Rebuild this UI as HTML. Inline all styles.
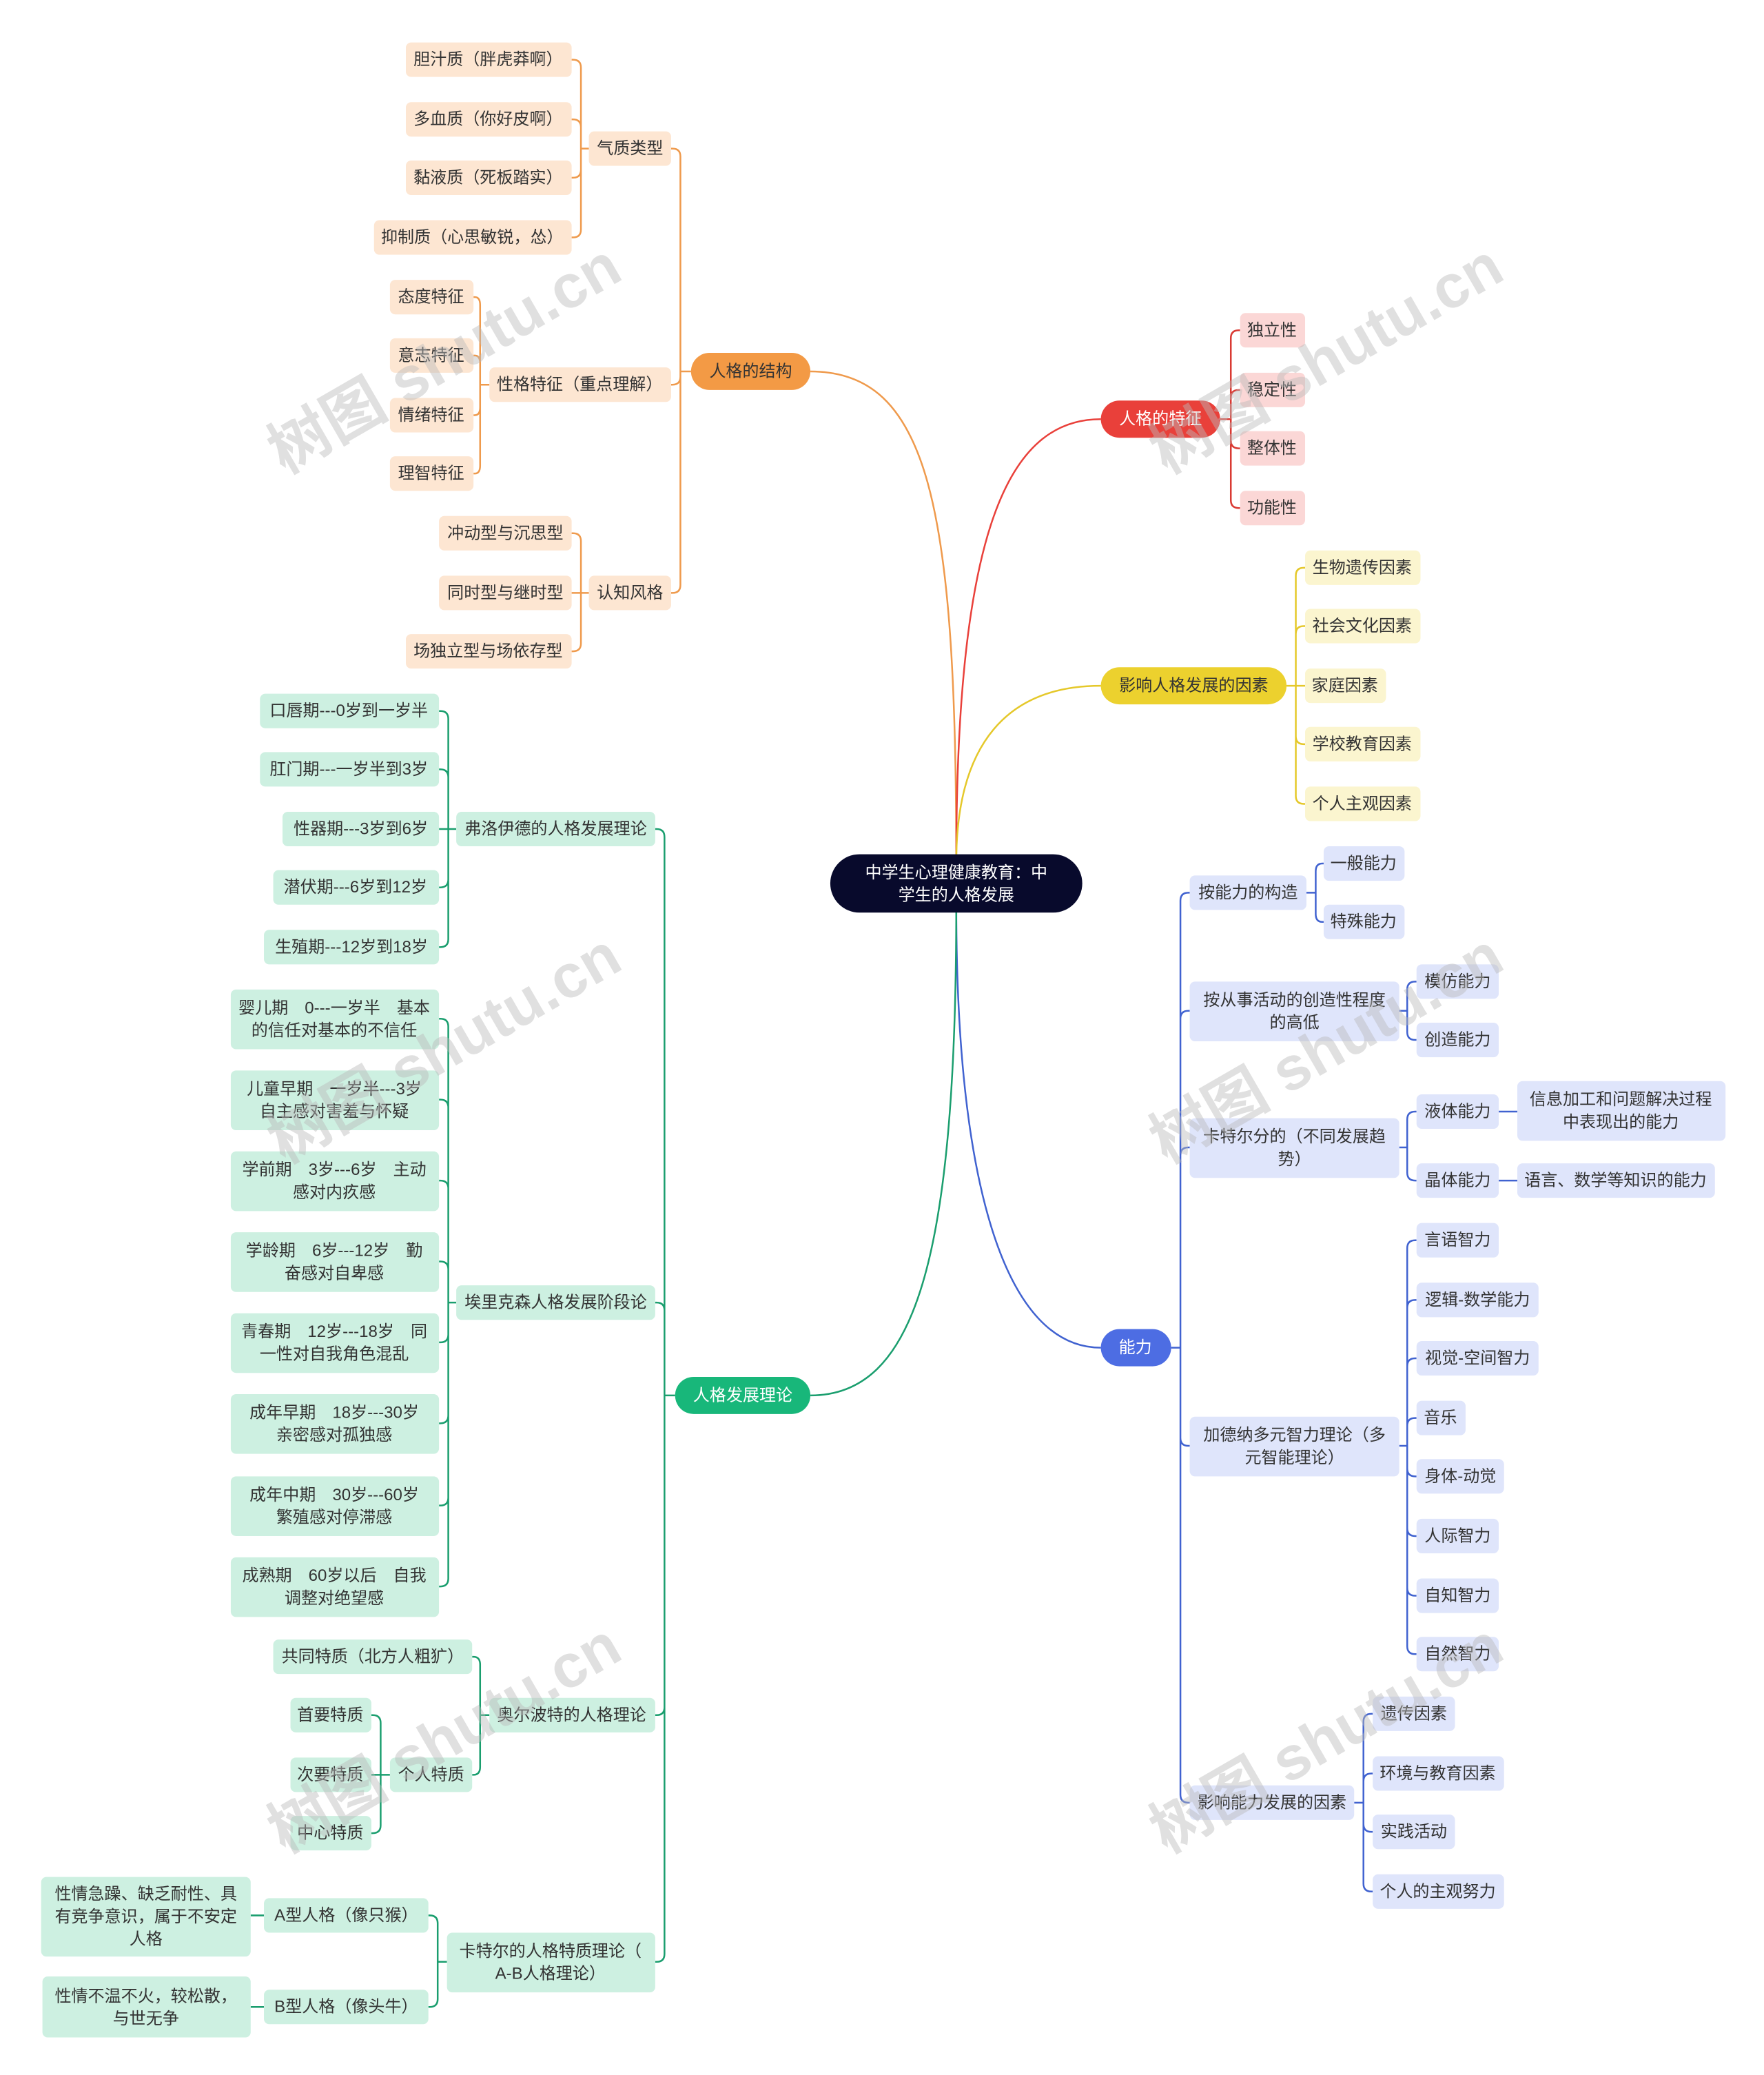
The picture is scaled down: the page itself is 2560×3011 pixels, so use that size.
<!DOCTYPE html>
<html><head><meta charset="utf-8">
<style>
html,body{margin:0;padding:0;background:#fff;}
svg{display:block;}
text{font-family:"Liberation Sans","Noto Sans CJK SC",sans-serif;font-size:12.5px;fill:#333;text-anchor:middle;dominant-baseline:central;}
.w{fill:#fff;}
.wm{font-size:46px;fill:#bbb;opacity:0.45;font-weight:bold;}
.o path,.o line{stroke:#ef9a4c;}
.r path{stroke:#d93a33;}
.y path{stroke:#e5c82a;}
.b path{stroke:#4062d0;}
.g path{stroke:#1a9e6e;}
path{fill:none;stroke-width:1.3;}
</style></head><body>
<svg width="2560" height="3011" viewBox="0 0 1330 1564.3" xmlns="http://www.w3.org/2000/svg">
<rect width="1330" height="1565" fill="#fff"/>

<!-- main connectors -->
<path d="M721 650 C721 380 700 280 611 280" stroke="#ef9a4c"/>
<path d="M721 650 C721 400 760 316 830 316" stroke="#e9403a"/>
<path d="M721 650 C721 560 760 517 830 517" stroke="#e5c82a"/>
<path d="M721 682 C721 900 760 1016 830 1016" stroke="#4062d0"/>
<path d="M721 682 C721 950 690 1052 611 1052" stroke="#1a9e6e"/>

<!-- ORANGE -->
<g class="o">
<path d="M521 280 H513 M513 280 V118 Q513 112 507 112 H506 M513 280 V284 Q513 290 507 290 H506 M513 280 V441 Q513 447 507 447 H506"/>
<path d="M444 112 H438 M438 112 V51 Q438 45 432 45 H431 M438 112 V96 Q438 90 432 90 H431 M438 112 V128 Q438 134 432 134 H431 M438 112 V173 Q438 179 432 179 H431"/>
<path d="M369 290 H362 M362 290 V230 Q362 224 358 224 H357 M362 290 V274 Q362 268 358 268 H357 M362 290 V307 Q362 313 358 313 H357 M362 290 V351 Q362 357 358 357 H357"/>
<path d="M444 447 H438 M438 447 V408 Q438 402 432 402 H431 M438 447 H431 M438 447 V485 Q438 491 432 491 H431"/>
</g>
<rect x="521" y="266" width="90" height="28" rx="14" fill="#f39a45"/><text x="566" y="280">人格的结构</text>
<g fill="#fde6d2">
<rect x="444" y="99" width="62" height="26" rx="4"/><rect x="369" y="277" width="137" height="26" rx="4"/><rect x="444" y="434" width="62" height="26" rx="4"/>
<rect x="306" y="32" width="125" height="26" rx="4"/><rect x="306" y="77" width="125" height="26" rx="4"/><rect x="306" y="121" width="125" height="26" rx="4"/><rect x="282" y="166" width="149" height="26" rx="4"/>
<rect x="294" y="211" width="63" height="26" rx="4"/><rect x="294" y="255" width="63" height="26" rx="4"/><rect x="294" y="300" width="63" height="26" rx="4"/><rect x="294" y="344" width="63" height="26" rx="4"/>
<rect x="331" y="389" width="100" height="26" rx="4"/><rect x="331" y="434" width="100" height="26" rx="4"/><rect x="306" y="478" width="125" height="26" rx="4"/>
</g>
<text x="475" y="112">气质类型</text><text x="437" y="290">性格特征（重点理解）</text><text x="475" y="447">认知风格</text>
<text x="368" y="45">胆汁质（胖虎莽啊）</text><text x="368" y="90">多血质（你好皮啊）</text><text x="368" y="134">黏液质（死板踏实）</text><text x="356" y="179">抑制质（心思敏锐，怂）</text>
<text x="325" y="224">态度特征</text><text x="325" y="268">意志特征</text><text x="325" y="313">情绪特征</text><text x="325" y="357">理智特征</text>
<text x="381" y="402">冲动型与沉思型</text><text x="381" y="447">同时型与继时型</text><text x="368" y="491">场独立型与场依存型</text>

<!-- RED -->
<g class="r"><path d="M920 316 H928 M928 316 V255 Q928 249 934 249 H935 M928 316 V300 Q928 294 934 294 H935 M928 316 V332 Q928 338 934 338 H935 M928 316 V377 Q928 383 934 383 H935"/></g>
<rect x="830" y="302" width="90" height="28" rx="14" fill="#e9403a"/><text class="w" x="875" y="316">人格的特征</text>
<g fill="#fbd7d6"><rect x="935" y="236" width="49" height="26" rx="4"/><rect x="935" y="281" width="49" height="26" rx="4"/><rect x="935" y="325" width="49" height="26" rx="4"/><rect x="935" y="370" width="49" height="26" rx="4"/></g>
<text x="959" y="249">独立性</text><text x="959" y="294">稳定性</text><text x="959" y="338">整体性</text><text x="959" y="383">功能性</text>

<!-- YELLOW -->
<g class="y"><path d="M970 517 H977 M977 517 V434 Q977 428 983 428 H984 M977 517 V478 Q977 472 983 472 H984 M977 517 H984 M977 517 V555 Q977 561 983 561 H984 M977 517 V600 Q977 606 983 606 H984"/></g>
<rect x="830" y="503" width="140" height="28" rx="14" fill="#ecd12e"/><text x="900" y="517">影响人格发展的因素</text>
<g fill="#fbf5cf"><rect x="984" y="415" width="87" height="26" rx="4"/><rect x="984" y="459" width="87" height="26" rx="4"/><rect x="984" y="504" width="61" height="26" rx="4"/><rect x="984" y="548" width="87" height="26" rx="4"/><rect x="984" y="593" width="87" height="26" rx="4"/></g>
<text x="1027" y="428">生物遗传因素</text><text x="1027" y="472">社会文化因素</text><text x="1014" y="517">家庭因素</text><text x="1027" y="561">学校教育因素</text><text x="1027" y="606">个人主观因素</text>

<!-- BLUE -->
<g class="b">
<path d="M883 1016 H890 M890 1016 V679 Q890 673 896 673 H897 M890 1016 V768 Q890 762 896 762 H897 M890 1016 V871 Q890 865 896 865 H897 M890 1016 V1084 Q890 1090 896 1090 H897 M890 1016 V1353 Q890 1359 896 1359 H897"/>
<path d="M985 673 H992 M992 673 V657 Q992 651 997 651 H998 M992 673 V689 Q992 695 997 695 H998"/>
<path d="M1055 762 H1061 M1061 762 V746 Q1061 740 1067 740 H1068 M1061 762 V778 Q1061 784 1067 784 H1068"/>
<path d="M1055 865 H1061 M1061 865 V844 Q1061 838 1067 838 H1068 M1061 865 V884 Q1061 890 1067 890 H1068"/>
<path d="M1130 838 H1144 M1130 890 H1144"/>
<path d="M1055 1090 H1061 M1061 1090 V941 Q1061 935 1067 935 H1068 M1061 1090 V986 Q1061 980 1067 980 H1068 M1061 1090 V1030 Q1061 1024 1067 1024 H1068 M1061 1090 V1075 Q1061 1069 1067 1069 H1068 M1061 1090 V1107 Q1061 1113 1067 1113 H1068 M1061 1090 V1152 Q1061 1158 1067 1158 H1068 M1061 1090 V1197 Q1061 1203 1067 1203 H1068 M1061 1090 V1241 Q1061 1247 1067 1247 H1068"/>
<path d="M1021 1359 H1028 M1028 1359 V1298 Q1028 1292 1034 1292 H1035 M1028 1359 V1343 Q1028 1337 1034 1337 H1035 M1028 1359 V1375 Q1028 1381 1034 1381 H1035 M1028 1359 V1420 Q1028 1426 1034 1426 H1035"/>
</g>
<rect x="830" y="1002" width="53" height="28" rx="14" fill="#4d6de3"/><text class="w" x="856" y="1016">能力</text>
<g fill="#dfe5fb">
<rect x="897" y="660" width="88" height="26" rx="4"/><rect x="897" y="740" width="158" height="45" rx="4"/><rect x="897" y="843" width="158" height="45" rx="4"/><rect x="897" y="1068" width="158" height="45" rx="4"/><rect x="897" y="1346" width="124" height="26" rx="4"/>
<rect x="998" y="638" width="61" height="26" rx="4"/><rect x="998" y="682" width="61" height="26" rx="4"/>
<rect x="1068" y="727" width="62" height="26" rx="4"/><rect x="1068" y="771" width="62" height="26" rx="4"/>
<rect x="1068" y="825" width="62" height="26" rx="4"/><rect x="1068" y="877" width="62" height="26" rx="4"/>
<rect x="1144" y="815" width="157" height="45" rx="4"/><rect x="1144" y="877" width="149" height="26" rx="4"/>
<rect x="1068" y="922" width="62" height="26" rx="4"/><rect x="1068" y="967" width="92" height="26" rx="4"/><rect x="1068" y="1011" width="92" height="26" rx="4"/><rect x="1068" y="1056" width="37" height="26" rx="4"/><rect x="1068" y="1100" width="66" height="26" rx="4"/><rect x="1068" y="1145" width="62" height="26" rx="4"/><rect x="1068" y="1190" width="62" height="26" rx="4"/><rect x="1068" y="1234" width="62" height="26" rx="4"/>
<rect x="1035" y="1279" width="62" height="26" rx="4"/><rect x="1035" y="1324" width="99" height="26" rx="4"/><rect x="1035" y="1368" width="62" height="26" rx="4"/><rect x="1035" y="1413" width="99" height="26" rx="4"/>
</g>
<text x="941" y="673">按能力的构造</text>
<text x="976" y="754">按从事活动的创造性程度</text><text x="976" y="771">的高低</text>
<text x="976" y="857">卡特尔分的（不同发展趋</text><text x="976" y="874">势）</text>
<text x="976" y="1082">加德纳多元智力理论（多</text><text x="976" y="1099">元智能理论）</text>
<text x="959" y="1359">影响能力发展的因素</text>
<text x="1028" y="651">一般能力</text><text x="1028" y="695">特殊能力</text>
<text x="1099" y="740">模仿能力</text><text x="1099" y="784">创造能力</text>
<text x="1099" y="838">液体能力</text><text x="1099" y="890">晶体能力</text>
<text x="1222" y="829">信息加工和问题解决过程</text><text x="1222" y="846">中表现出的能力</text>
<text x="1218" y="890">语言、数学等知识的能力</text>
<text x="1099" y="935">言语智力</text><text x="1114" y="980">逻辑-数学能力</text><text x="1114" y="1024">视觉-空间智力</text><text x="1086" y="1069">音乐</text><text x="1101" y="1113">身体-动觉</text><text x="1099" y="1158">人际智力</text><text x="1099" y="1203">自知智力</text><text x="1099" y="1247">自然智力</text>
<text x="1066" y="1292">遗传因素</text><text x="1084" y="1337">环境与教育因素</text><text x="1066" y="1381">实践活动</text><text x="1084" y="1426">个人的主观努力</text>

<!-- GREEN -->
<g class="g">
<path d="M509 1052 H501 M501 1052 V631 Q501 625 495 625 H494 M501 1052 V988 Q501 982 495 982 H494 M501 1052 V1287 Q501 1293 495 1293 H494 M501 1052 V1473 Q501 1479 495 1479 H494"/>
<path d="M344 625 H338 M338 625 V542 Q338 536 332 536 H331 M338 625 V586 Q338 580 332 580 H331 M338 625 H331 M338 625 V663 Q338 669 332 669 H331 M338 625 V708 Q338 714 332 714 H331"/>
<path d="M344 982 H338 M338 982 V774 Q338 768 332 768 H331 M338 982 V835 Q338 829 332 829 H331 M338 982 V896 Q338 890 332 890 H331 M338 982 V957 Q338 951 332 951 H331 M338 982 V1006 Q338 1012 332 1012 H331 M338 982 V1067 Q338 1073 332 1073 H331 M338 982 V1129 Q338 1135 332 1135 H331 M338 982 V1190 Q338 1196 332 1196 H331"/>
<path d="M369 1293 H362 M362 1293 V1255 Q362 1249 357 1249 H356 M362 1293 V1332 Q362 1338 357 1338 H356"/>
<path d="M294 1338 H287 M287 1338 V1299 Q287 1293 281 1293 H280 M287 1338 H280 M287 1338 V1376 Q287 1382 281 1382 H280"/>
<path d="M337 1479 H330 M330 1479 V1450 Q330 1444 324 1444 H323 M330 1479 V1507 Q330 1513 324 1513 H323"/>
<path d="M199 1444 H189 M199 1513 H189"/>
</g>
<rect x="509" y="1038" width="102" height="28" rx="14" fill="#18b77a"/><text class="w" x="560" y="1052">人格发展理论</text>
<g fill="#cdf0e1">
<rect x="344" y="612" width="150" height="26" rx="4"/><rect x="344" y="969" width="150" height="26" rx="4"/><rect x="369" y="1280" width="125" height="26" rx="4"/><rect x="337" y="1457" width="157" height="45" rx="4"/>
<rect x="196" y="523" width="135" height="26" rx="4"/><rect x="196" y="567" width="135" height="26" rx="4"/><rect x="213" y="612" width="118" height="26" rx="4"/><rect x="206" y="656" width="125" height="26" rx="4"/><rect x="199" y="701" width="132" height="26" rx="4"/>
<rect x="174" y="746" width="157" height="45" rx="4"/><rect x="174" y="807" width="157" height="45" rx="4"/><rect x="174" y="868" width="157" height="45" rx="4"/><rect x="174" y="929" width="157" height="45" rx="4"/><rect x="174" y="990" width="157" height="45" rx="4"/><rect x="174" y="1051" width="157" height="45" rx="4"/><rect x="174" y="1113" width="157" height="45" rx="4"/><rect x="174" y="1174" width="157" height="45" rx="4"/>
<rect x="206" y="1236" width="150" height="26" rx="4"/><rect x="294" y="1325" width="62" height="26" rx="4"/>
<rect x="219" y="1280" width="61" height="26" rx="4"/><rect x="219" y="1325" width="61" height="26" rx="4"/><rect x="219" y="1369" width="61" height="26" rx="4"/>
<rect x="199" y="1431" width="124" height="26" rx="4"/><rect x="199" y="1500" width="124" height="26" rx="4"/>
<rect x="31" y="1415" width="158" height="60" rx="4"/><rect x="32" y="1490" width="157" height="46" rx="4"/>
</g>
<text x="419" y="625">弗洛伊德的人格发展理论</text><text x="419" y="982">埃里克森人格发展阶段论</text><text x="431" y="1293">奥尔波特的人格理论</text>
<text x="415" y="1471">卡特尔的人格特质理论（</text><text x="415" y="1488">A-B人格理论）</text>
<text x="263" y="536">口唇期---0岁到一岁半</text><text x="263" y="580">肛门期---一岁半到3岁</text><text x="272" y="625">性器期---3岁到6岁</text><text x="268" y="669">潜伏期---6岁到12岁</text><text x="265" y="714">生殖期---12岁到18岁</text>
<text x="252" y="760">婴儿期　0---一岁半　基本</text><text x="252" y="777">的信任对基本的不信任</text>
<text x="252" y="821">儿童早期　一岁半---3岁</text><text x="252" y="838">自主感对害羞与怀疑</text>
<text x="252" y="882">学前期　3岁---6岁　主动</text><text x="252" y="899">感对内疚感</text>
<text x="252" y="943">学龄期　6岁---12岁　勤</text><text x="252" y="960">奋感对自卑感</text>
<text x="252" y="1004">青春期　12岁---18岁　同</text><text x="252" y="1021">一性对自我角色混乱</text>
<text x="252" y="1065">成年早期　18岁---30岁</text><text x="252" y="1082">亲密感对孤独感</text>
<text x="252" y="1127">成年中期　30岁---60岁</text><text x="252" y="1144">繁殖感对停滞感</text>
<text x="252" y="1188">成熟期　60岁以后　自我</text><text x="252" y="1205">调整对绝望感</text>
<text x="281" y="1249">共同特质（北方人粗犷）</text><text x="325" y="1338">个人特质</text>
<text x="249" y="1293">首要特质</text><text x="249" y="1338">次要特质</text><text x="249" y="1382">中心特质</text>
<text x="261" y="1444">A型人格（像只猴）</text><text x="261" y="1513">B型人格（像头牛）</text>
<text x="110" y="1428">性情急躁、缺乏耐性、具</text><text x="110" y="1445">有竞争意识，属于不安定</text><text x="110" y="1462">人格</text>
<text x="110" y="1505">性情不温不火，较松散，</text><text x="110" y="1522">与世无争</text>

<!-- CENTER -->
<rect x="626" y="644" width="190" height="44" rx="22" fill="#080a2c"/>
<text class="w" x="721" y="658">中学生心理健康教育：中</text><text class="w" x="721" y="675">学生的人格发展</text>

<!-- watermarks -->
<text class="wm" transform="translate(335,270) rotate(-30)">树图 shutu.cn</text>
<text class="wm" transform="translate(1000,270) rotate(-30)">树图 shutu.cn</text>
<text class="wm" transform="translate(335,790) rotate(-30)">树图 shutu.cn</text>
<text class="wm" transform="translate(1000,790) rotate(-30)">树图 shutu.cn</text>
<text class="wm" transform="translate(335,1310) rotate(-30)">树图 shutu.cn</text>
<text class="wm" transform="translate(1000,1310) rotate(-30)">树图 shutu.cn</text>
</svg>
</body></html>
